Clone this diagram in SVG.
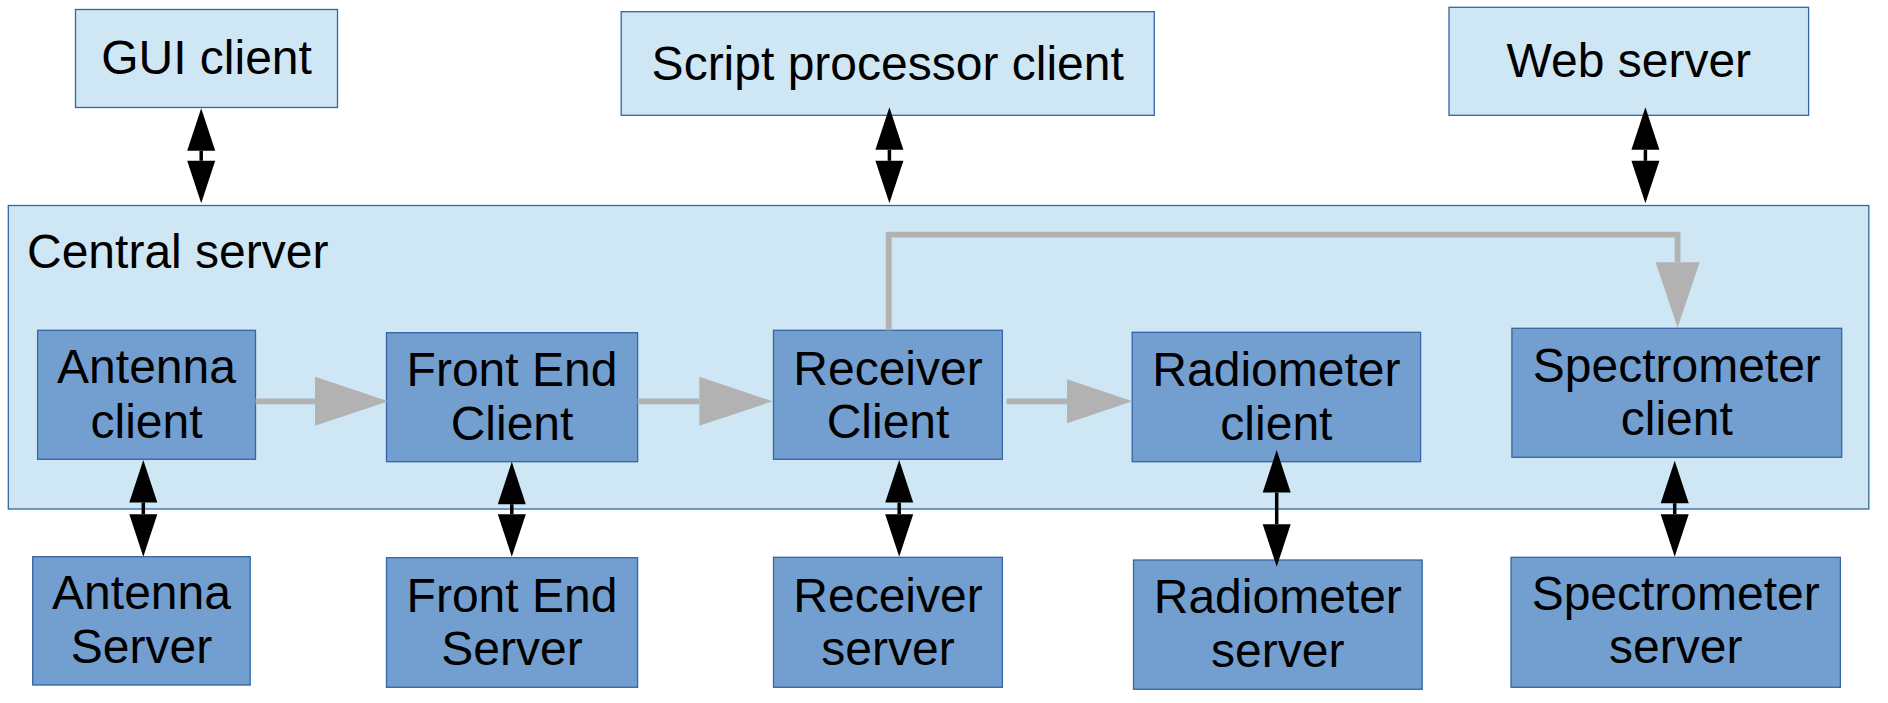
<svg xmlns="http://www.w3.org/2000/svg" width="1888" height="703" viewBox="0 0 1888 703">
<style>
.outer{fill:#cfe7f5;stroke:#3465a4;stroke-width:1.3}
.inner{fill:#729fcf;stroke:#3465a4;stroke-width:1.3}
text{font-family:"Liberation Sans",Arial,sans-serif;font-size:48px;fill:#000}
.c{text-anchor:middle}
.blk{fill:none;stroke:#000;stroke-width:3.5}
.gry{fill:none;stroke:#b2b2b2;stroke-width:5.8;stroke-linejoin:miter}
</style>
<defs>
<marker id="hb" markerUnits="userSpaceOnUse" markerWidth="44" markerHeight="30" refX="0" refY="14.5" orient="auto-start-reverse" overflow="visible"><path d="M0,0.5 L42.5,14.5 L0,28.5 z" fill="#000"/></marker>
<marker id="ga" markerUnits="userSpaceOnUse" markerWidth="75" markerHeight="50" refX="0" refY="24.5" orient="auto" overflow="visible"><path d="M0,0 L73.3,24.5 L0,49 z" fill="#b2b2b2"/></marker>
<marker id="gb" markerUnits="userSpaceOnUse" markerWidth="67" markerHeight="46" refX="0" refY="22" orient="auto" overflow="visible"><path d="M0,0 L65.5,22 L0,44 z" fill="#b2b2b2"/></marker>
</defs>

<g id="central-server">
<rect class="outer" x="8.3" y="205.5" width="1860.5" height="303.5"/>
<text x="27" y="268.3">Central server</text>
</g>

<g id="gui-client">
<rect class="outer" x="75.5" y="9.5" width="262" height="98"/>
<text class="c" x="206.5" y="74">GUI client</text>
</g>
<g id="script-processor-client">
<rect class="outer" x="621.2" y="11.7" width="533.1" height="103.6"/>
<text class="c" x="887.7" y="80">Script processor client</text>
</g>
<g id="web-server">
<rect class="outer" x="1449" y="7.3" width="359.6" height="108"/>
<text class="c" x="1628.8" y="77.3">Web server</text>
</g>

<g id="antenna-client">
<rect class="inner" x="37.6" y="330.3" width="217.9" height="129"/>
<text class="c" x="146.5" y="383.3">Antenna</text>
<text class="c" x="146.5" y="438.3">client</text>
</g>
<g id="front-end-client">
<rect class="inner" x="386.5" y="332.7" width="251.1" height="129"/>
<text class="c" x="512" y="386">Front End</text>
<text class="c" x="512" y="440">Client</text>
</g>
<g id="receiver-client">
<rect class="inner" x="773.5" y="330.3" width="228.9" height="129"/>
<text class="c" x="888" y="385">Receiver</text>
<text class="c" x="888" y="438.3">Client</text>
</g>
<g id="radiometer-client">
<rect class="inner" x="1132.2" y="332.3" width="288.4" height="129.4"/>
<text class="c" x="1276.4" y="386">Radiometer</text>
<text class="c" x="1276.4" y="440">client</text>
</g>
<g id="spectrometer-client">
<rect class="inner" x="1511.9" y="328.3" width="329.8" height="129"/>
<text class="c" x="1676.8" y="381.7">Spectrometer</text>
<text class="c" x="1676.8" y="435">client</text>
</g>

<g id="antenna-server">
<rect class="inner" x="32.7" y="556.7" width="217.5" height="128.3"/>
<text class="c" x="141.5" y="609.3">Antenna</text>
<text class="c" x="141.5" y="663.3">Server</text>
</g>
<g id="front-end-server">
<rect class="inner" x="386.5" y="557.7" width="251.1" height="129.6"/>
<text class="c" x="512" y="611.5">Front End</text>
<text class="c" x="512" y="665">Server</text>
</g>
<g id="receiver-server">
<rect class="inner" x="773.5" y="557.3" width="228.9" height="130"/>
<text class="c" x="888" y="611.7">Receiver</text>
<text class="c" x="888" y="665">server</text>
</g>
<g id="radiometer-server">
<rect class="inner" x="1133.5" y="560" width="288.7" height="129.3"/>
<text class="c" x="1277.8" y="613.3">Radiometer</text>
<text class="c" x="1277.8" y="667">server</text>
</g>
<g id="spectrometer-server">
<rect class="inner" x="1511" y="557.3" width="329.4" height="130"/>
<text class="c" x="1675.7" y="610">Spectrometer</text>
<text class="c" x="1675.7" y="663.3">server</text>
</g>

<g id="connectors">
<path class="blk" d="M201.2,150.8 V160.8" marker-start="url(#hb)" marker-end="url(#hb)"/>
<path class="blk" d="M889.4,149.8 V160.8" marker-start="url(#hb)" marker-end="url(#hb)"/>
<path class="blk" d="M1645.4,149.8 V160.8" marker-start="url(#hb)" marker-end="url(#hb)"/>
<path class="blk" d="M143.3,502.5 V514.2" marker-start="url(#hb)" marker-end="url(#hb)"/>
<path class="blk" d="M511.8,504.2 V514.2" marker-start="url(#hb)" marker-end="url(#hb)"/>
<path class="blk" d="M899.2,502.5 V514.2" marker-start="url(#hb)" marker-end="url(#hb)"/>
<path class="blk" d="M1276.7,492.5 V524.2" marker-start="url(#hb)" marker-end="url(#hb)"/>
<path class="blk" d="M1674.7,503.2 V514.2" marker-start="url(#hb)" marker-end="url(#hb)"/>
<path class="gry" d="M255.5,401.3 H315" marker-end="url(#ga)"/>
<path class="gry" d="M637.6,401.3 H699.3" marker-end="url(#ga)"/>
<path class="gry" d="M1006.5,401.3 H1067" marker-end="url(#gb)"/>
<path class="gry" d="M888.7,330.3 V234.7 H1677.6 V262.2" marker-end="url(#gb)"/>
</g>
</svg>
